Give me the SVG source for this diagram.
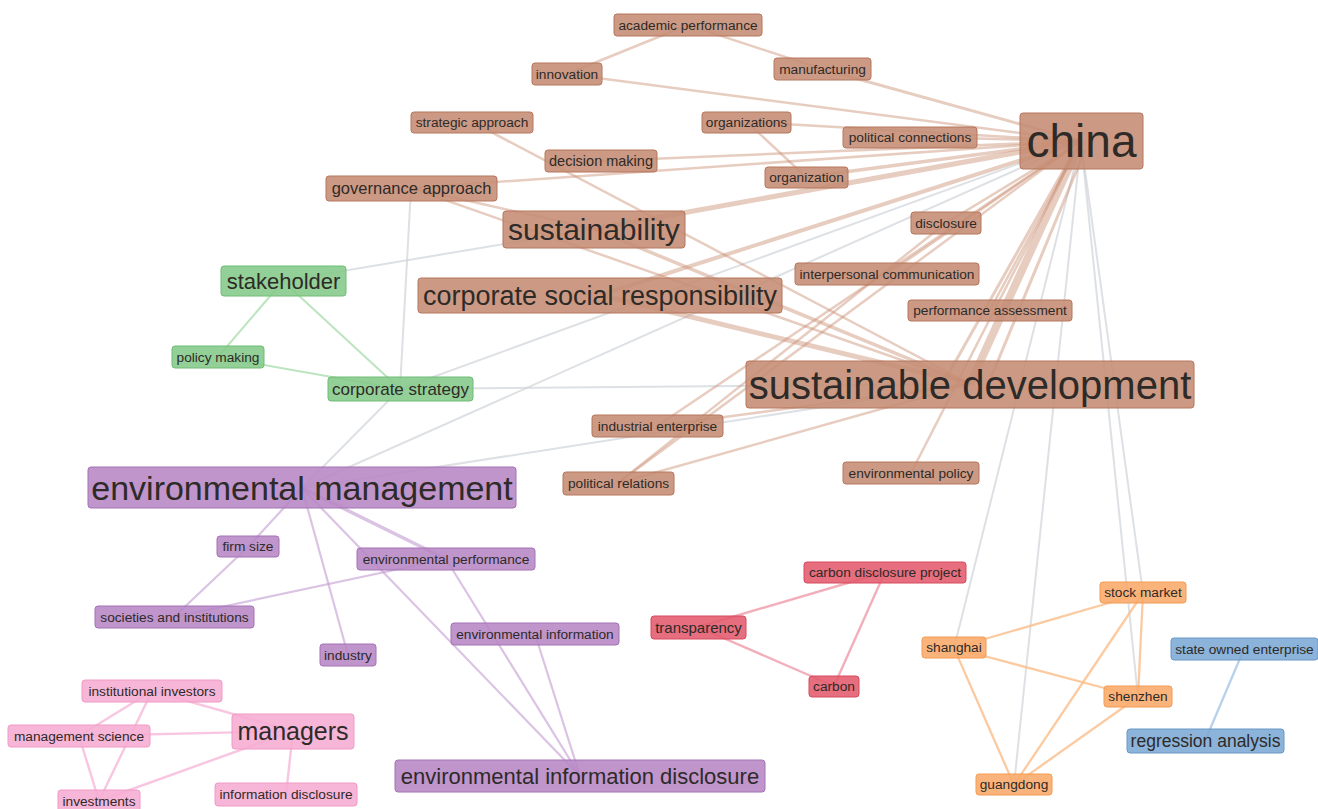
<svg xmlns="http://www.w3.org/2000/svg" width="1318" height="809" viewBox="0 0 1318 809">
<style>
text{font-family:"Liberation Sans",Arial,sans-serif;fill:#2e2a28;text-anchor:middle}
rect{rx:3;ry:3;stroke-width:1;fill-opacity:.88}
.nb rect{fill:#c58c73;stroke:#b5765d}
.ng rect{fill:#84c989;stroke:#6fbd75}
.np rect{fill:#b686c5;stroke:#a473b5}
.nk rect{fill:#f6acd2;stroke:#f09ac6}
.nr rect{fill:#e35a6c;stroke:#d64a5d}
.no rect{fill:#f9aa69;stroke:#f39a52}
.nl rect{fill:#7ca9d4;stroke:#6898c6}
.s{font-size:13.7px}
line{stroke-linecap:butt;fill:none}
.eb{stroke:#c98f73;stroke-opacity:.45;stroke-width:2.5}
.eg{stroke:#cfd3d8;stroke-opacity:.7;stroke-width:2}
.egr{stroke:#9fd8a2;stroke-opacity:.7;stroke-width:2}
.ep{stroke:#c39bd0;stroke-opacity:.6;stroke-width:2.2}
.ek{stroke:#f5b3d6;stroke-opacity:.75;stroke-width:2.4}
.er{stroke:#ec8d9c;stroke-opacity:.7;stroke-width:2.4}
.eo{stroke:#fbbd88;stroke-opacity:.8;stroke-width:2.3}
.el{stroke:#a6c6e6;stroke-opacity:.8;stroke-width:2.3}
</style>
<rect x="0" y="0" width="1318" height="809" fill="#ffffff" style="fill-opacity:1;stroke:none"/>
<g id="edges">
<!-- gray -->
<line class="eg" x1="1081" y1="141" x2="954" y2="648"/>
<line class="eg" x1="1081" y1="141" x2="1014" y2="785"/>
<line class="eg" x1="1081" y1="141" x2="1138" y2="697"/>
<line class="eg" x1="1081" y1="141" x2="1143" y2="593"/>
<line class="eg" x1="283" y1="281" x2="594" y2="229"/>
<line class="eg" x1="411" y1="188" x2="400" y2="389"/>
<line class="eg" x1="400" y1="389" x2="302" y2="488"/>
<line class="eg" x1="400" y1="389" x2="970" y2="384"/>
<line class="eg" x1="400" y1="389" x2="1081" y2="141"/>
<line class="eg" x1="302" y1="488" x2="1081" y2="141"/>
<line class="eg" x1="302" y1="488" x2="970" y2="384"/>
<!-- brown -->
<line class="eb" x1="688" y1="25" x2="567" y2="74"/>
<line class="eb" x1="688" y1="25" x2="822" y2="69"/>
<line class="eb" x1="822" y1="69" x2="1081" y2="141" style="stroke-width:3"/>
<line class="eb" x1="567" y1="74" x2="1081" y2="141"/>
<line class="eb" x1="747" y1="122" x2="1081" y2="141"/>
<line class="eb" x1="747" y1="122" x2="806" y2="177"/>
<line class="eb" x1="910" y1="137" x2="1081" y2="141"/>
<line class="eb" x1="601" y1="161" x2="1081" y2="141"/>
<line class="eb" x1="411" y1="188" x2="1081" y2="141"/>
<line class="eb" x1="806" y1="177" x2="1081" y2="141" style="stroke-width:3.5"/>
<line class="eb" x1="594" y1="229" x2="1081" y2="141" style="stroke-width:5"/>
<line class="eb" x1="600" y1="295" x2="1081" y2="141" style="stroke-width:4"/>
<line class="eb" x1="946" y1="223" x2="1081" y2="141"/>
<line class="eb" x1="887" y1="274" x2="1081" y2="141"/>
<line class="eb" x1="990" y1="310" x2="1081" y2="141"/>
<line class="eb" x1="657" y1="426" x2="1081" y2="141"/>
<line class="eb" x1="618" y1="483" x2="1081" y2="141"/>
<line class="eb" x1="618" y1="483" x2="946" y2="223"/>
<line class="eb" x1="911" y1="473" x2="1081" y2="141"/>
<line class="eb" x1="970" y1="384" x2="1081" y2="141" style="stroke-width:8"/>
<line class="eb" x1="945" y1="380" x2="1075" y2="150" style="stroke-width:3"/>
<line class="eb" x1="990" y1="380" x2="1085" y2="150" style="stroke-width:3"/>
<line class="eb" x1="411" y1="188" x2="594" y2="229"/>
<line class="eb" x1="411" y1="188" x2="970" y2="384"/>
<line class="eb" x1="472" y1="122" x2="970" y2="384"/>
<line class="eb" x1="594" y1="229" x2="970" y2="384" style="stroke-width:3.5"/>
<line class="eb" x1="600" y1="295" x2="970" y2="384" style="stroke-width:5"/>
<line class="eb" x1="657" y1="426" x2="970" y2="384"/>
<line class="eb" x1="618" y1="483" x2="970" y2="384"/>
<!-- green -->
<line class="egr" x1="283" y1="281" x2="218" y2="357"/>
<line class="egr" x1="283" y1="281" x2="400" y2="389"/>
<line class="egr" x1="218" y1="357" x2="400" y2="389"/>
<!-- purple -->
<line class="ep" x1="302" y1="488" x2="248" y2="547"/>
<line class="ep" x1="248" y1="547" x2="174" y2="617"/>
<line class="ep" x1="302" y1="488" x2="446" y2="559" style="stroke-width:3.5"/>
<line class="ep" x1="446" y1="559" x2="174" y2="617"/>
<line class="ep" x1="302" y1="488" x2="348" y2="655"/>
<line class="ep" x1="302" y1="488" x2="580" y2="776"/>
<line class="ep" x1="446" y1="559" x2="580" y2="776"/>
<line class="ep" x1="535" y1="634" x2="580" y2="776"/>
<!-- pink -->
<line class="ek" x1="152" y1="691" x2="293" y2="731"/>
<line class="ek" x1="152" y1="691" x2="79" y2="736"/>
<line class="ek" x1="152" y1="691" x2="99" y2="801"/>
<line class="ek" x1="79" y1="736" x2="293" y2="731"/>
<line class="ek" x1="79" y1="736" x2="99" y2="801"/>
<line class="ek" x1="293" y1="731" x2="99" y2="801"/>
<line class="ek" x1="293" y1="731" x2="286" y2="795"/>
<!-- red -->
<line class="er" x1="698" y1="627" x2="885" y2="572"/>
<line class="er" x1="698" y1="627" x2="834" y2="686"/>
<line class="er" x1="885" y1="572" x2="834" y2="686"/>
<!-- orange -->
<line class="eo" x1="954" y1="648" x2="1143" y2="593"/>
<line class="eo" x1="954" y1="648" x2="1138" y2="697"/>
<line class="eo" x1="954" y1="648" x2="1014" y2="785"/>
<line class="eo" x1="1143" y1="593" x2="1138" y2="697"/>
<line class="eo" x1="1143" y1="593" x2="1014" y2="785"/>
<line class="eo" x1="1138" y1="697" x2="1014" y2="785"/>
<!-- blue -->
<line class="el" x1="1244" y1="649" x2="1205" y2="741"/>
</g>
<g id="n-academic-performance" class="nb"><rect x="614" y="14" width="148" height="22"/><text class="s" x="688" y="29.8">academic performance</text></g>
<g id="n-innovation" class="nb"><rect x="532" y="63" width="70" height="22"/><text class="s" x="567" y="78.8">innovation</text></g>
<g id="n-manufacturing" class="nb"><rect x="774" y="58" width="97" height="22"/><text class="s" x="822.5" y="73.8">manufacturing</text></g>
<g id="n-strategic-approach" class="nb"><rect x="411" y="112" width="122" height="21"/><text class="s" x="472" y="127.3">strategic approach</text></g>
<g id="n-organizations" class="nb"><rect x="702" y="112" width="89" height="21"/><text class="s" x="746.5" y="127.3">organizations</text></g>
<g id="n-political-connections" class="nb"><rect x="843" y="127" width="134" height="21"/><text class="s" x="910" y="142.3">political connections</text></g>
<g id="n-china" class="nb"><rect x="1020" y="113" width="123" height="56"/><text x="1081.5" y="157" style="font-size:46px">china</text></g>
<g id="n-decision-making" class="nb"><rect x="545" y="150" width="112" height="22"/><text x="601" y="166" style="font-size:14.5px">decision making</text></g>
<g id="n-organization" class="nb"><rect x="765" y="167" width="83" height="21"/><text class="s" x="806.5" y="182.3">organization</text></g>
<g id="n-governance-approach" class="nb"><rect x="326" y="176" width="171" height="25"/><text x="411.5" y="194.3" style="font-size:16.5px">governance approach</text></g>
<g id="n-sustainability" class="nb"><rect x="503" y="211" width="182" height="37"/><text x="594" y="240" style="font-size:30px">sustainability</text></g>
<g id="n-disclosure" class="nb"><rect x="911" y="212" width="70" height="22"/><text class="s" x="946" y="227.8">disclosure</text></g>
<g id="n-interpersonal-communication" class="nb"><rect x="795" y="263" width="184" height="22"/><text class="s" x="887" y="278.8">interpersonal communication</text></g>
<g id="n-csr" class="nb"><rect x="418" y="278" width="364" height="35"/><text x="600" y="305" style="font-size:27px">corporate social responsibility</text></g>
<g id="n-performance-assessment" class="nb"><rect x="908" y="300" width="164" height="21"/><text class="s" x="990" y="315.3">performance assessment</text></g>
<g id="n-sustainable-development" class="nb"><rect x="746" y="361" width="448" height="47"/><text x="970" y="398.5" style="font-size:40px">sustainable development</text></g>
<g id="n-industrial-enterprise" class="nb"><rect x="592" y="415" width="131" height="22"/><text class="s" x="657.5" y="430.8">industrial enterprise</text></g>
<g id="n-environmental-policy" class="nb"><rect x="843" y="462" width="136" height="22"/><text class="s" x="911" y="477.8">environmental policy</text></g>
<g id="n-political-relations" class="nb"><rect x="563" y="472" width="111" height="23"/><text class="s" x="618.5" y="488.3">political relations</text></g>
<g id="n-stakeholder" class="ng"><rect x="221" y="266" width="125" height="30"/><text x="283.5" y="288.7" style="font-size:22px">stakeholder</text></g>
<g id="n-policy-making" class="ng"><rect x="172" y="346" width="92" height="22"/><text class="s" x="218" y="361.8">policy making</text></g>
<g id="n-corporate-strategy" class="ng"><rect x="328" y="377" width="145" height="24"/><text x="400.5" y="395" style="font-size:17px">corporate strategy</text></g>
<g id="n-environmental-management" class="np"><rect x="88" y="467" width="428" height="41"/><text x="302" y="499.5" style="font-size:34px">environmental management</text></g>
<g id="n-firm-size" class="np"><rect x="217" y="536" width="62" height="21"/><text class="s" x="248" y="551.3">firm size</text></g>
<g id="n-environmental-performance" class="np"><rect x="357" y="548" width="178" height="22"/><text class="s" x="446" y="563.8">environmental performance</text></g>
<g id="n-societies-and-institutions" class="np"><rect x="95" y="606" width="159" height="22"/><text class="s" x="174.5" y="621.8">societies and institutions</text></g>
<g id="n-industry" class="np"><rect x="320" y="644" width="56" height="22"/><text class="s" x="348" y="659.8">industry</text></g>
<g id="n-environmental-information" class="np"><rect x="451" y="623" width="168" height="22"/><text class="s" x="535" y="638.8">environmental information</text></g>
<g id="n-environmental-information-disclosure" class="np"><rect x="395" y="760" width="370" height="32"/><text x="580" y="783.8" style="font-size:22px">environmental information disclosure</text></g>
<g id="n-institutional-investors" class="nk"><rect x="82" y="680" width="140" height="22"/><text class="s" x="152" y="695.8">institutional investors</text></g>
<g id="n-managers" class="nk"><rect x="232" y="714" width="122" height="35"/><text x="293" y="740.3" style="font-size:25px">managers</text></g>
<g id="n-management-science" class="nk"><rect x="8" y="725" width="142" height="22"/><text class="s" x="79" y="740.8">management science</text></g>
<g id="n-investments" class="nk"><rect x="58" y="790" width="82" height="22"/><text class="s" x="99" y="805.8">investments</text></g>
<g id="n-information-disclosure" class="nk"><rect x="215" y="783" width="142" height="23"/><text class="s" x="286" y="799.3">information disclosure</text></g>
<g id="n-carbon-disclosure-project" class="nr"><rect x="804" y="562" width="162" height="21"/><text class="s" x="885" y="577.3">carbon disclosure project</text></g>
<g id="n-transparency" class="nr"><rect x="651" y="616" width="95" height="23"/><text x="698.5" y="632.7" style="font-size:15px">transparency</text></g>
<g id="n-carbon" class="nr"><rect x="809" y="676" width="50" height="21"/><text class="s" x="834" y="691.3">carbon</text></g>
<g id="n-stock-market" class="no"><rect x="1100" y="582" width="86" height="21"/><text class="s" x="1143" y="597.3">stock market</text></g>
<g id="n-shanghai" class="no"><rect x="922" y="637" width="64" height="21"/><text class="s" x="954" y="652.3">shanghai</text></g>
<g id="n-shenzhen" class="no"><rect x="1104" y="686" width="68" height="21"/><text class="s" x="1138" y="701.3">shenzhen</text></g>
<g id="n-guangdong" class="no"><rect x="976" y="774" width="76" height="21"/><text class="s" x="1014" y="789.3">guangdong</text></g>
<g id="n-state-owned-enterprise" class="nl"><rect x="1171" y="638" width="147" height="22"/><text class="s" x="1244.5" y="653.8">state owned enterprise</text></g>
<g id="n-regression-analysis" class="nl"><rect x="1127" y="729" width="157" height="24"/><text x="1205.5" y="747" style="font-size:17.5px">regression analysis</text></g>
</svg>
